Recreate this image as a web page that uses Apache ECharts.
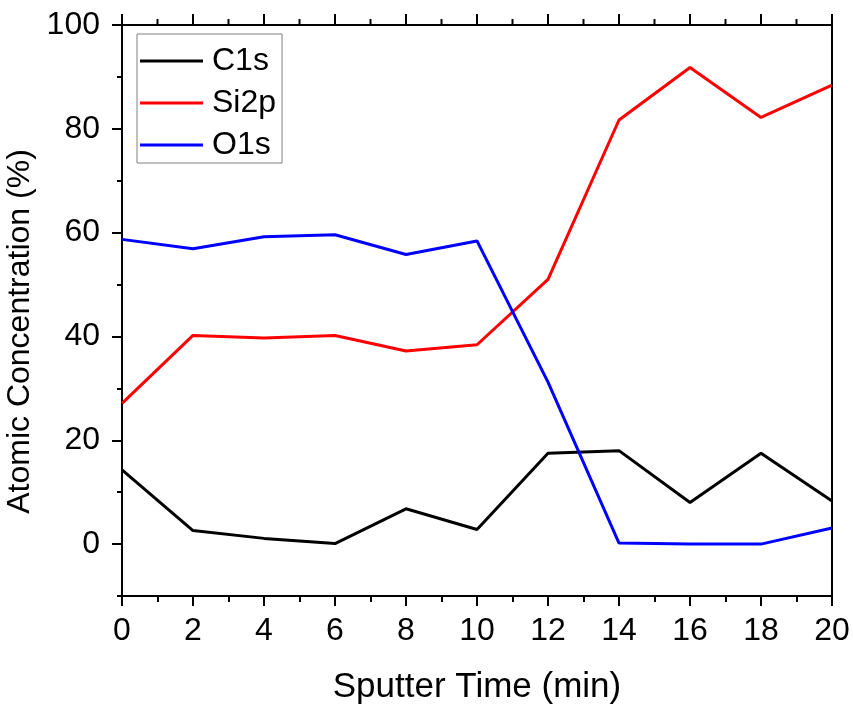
<!DOCTYPE html>
<html>
<head>
<meta charset="utf-8">
<script src="https://cdn.jsdelivr.net/npm/echarts@6/dist/echarts.min.js"></script>
<style>
html,body{margin:0;padding:0;background:#fff;}
#chart{width:853px;height:708px;}
</style>
</head>
<body>
<div id="chart"></div>
<script>
const time = [0, 2, 4, 6, 8, 10, 12, 14, 16, 18, 20];
const c1s  = [14.3, 2.6, 1.1, 0.1, 6.8, 2.8, 17.5, 18.0, 8.0, 17.5, 8.3];
const si2p = [27.1, 40.2, 39.7, 40.2, 37.2, 38.4, 51.0, 81.7, 91.8, 82.2, 88.4];
const o1s  = [58.7, 56.9, 59.2, 59.6, 55.8, 58.4, 31.2, 0.2, 0.0, 0.0, 3.1];
const xTicks = [0, 2, 4, 6, 8, 10, 12, 14, 16, 18, 20];
const xMinorTicks = [1, 3, 5, 7, 9, 11, 13, 15, 17, 19];
const yTicks = [0, 20, 40, 60, 80, 100];
const seriesNames = ['C1s', 'Si2p', 'O1s'];
const seriesColors = ['#000000', '#ff0000', '#0000ff'];
const seriesData = [c1s, si2p, o1s];

const font = 'Arial, "Liberation Sans", sans-serif';
const chart = echarts.init(document.getElementById('chart'));
const yMax = 100;

chart.setOption({
  animation: false,
  backgroundColor: '#ffffff',
  grid: { left: 122, right: 21, top: 25, bottom: 112, show: true, borderColor: '#000', borderWidth: 2, backgroundColor: 'transparent', containLabel: false, outerBoundsMode: 'none' },
  legend: {
    orient: 'vertical', left: 137, top: 34,
    icon: 'rect',
    itemWidth: 63, itemHeight: 3, itemGap: 10,
    padding: [11, 6, 2, 3],
    borderColor: '#808080', borderWidth: 1,
    textStyle: { fontFamily: font, fontSize: 32, color: '#000', lineHeight: 30, padding: [0, 0, 0, 4] },
    data: seriesNames
  },
  xAxis: [
    {
      type: 'value', min: xTicks[0], max: xTicks[xTicks.length - 1], interval: 2,
      position: 'bottom',
      name: 'Sputter Time (min)', nameLocation: 'middle', nameGap: 74,
      nameTextStyle: { fontFamily: font, fontSize: 35, color: '#000' },
      axisLine: { show: true, onZero: false, lineStyle: { color: '#000', width: 2 } },
      axisTick: { show: true, length: 10, lineStyle: { color: '#000', width: 2 } },
      minorTick: { show: true, splitNumber: 2, length: 6, lineStyle: { color: '#000', width: 2 } },
      axisLabel: { fontFamily: font, fontSize: 32, color: '#000', margin: 19 },
      splitLine: { show: false }
    }
  ],
  yAxis: [
    {
      type: 'value', min: -10, max: yMax,
      position: 'left',
      name: 'Atomic Concentration (%)', nameLocation: 'middle', nameGap: 66,
      nameTextStyle: { fontFamily: font, fontSize: 32, color: '#000', padding: [0, 42, 0, 0] },
      axisLine: { show: true, onZero: false, lineStyle: { color: '#000', width: 2 } },
      axisTick: { show: true, length: 10, customValues: yTicks, lineStyle: { color: '#000', width: 2 } },
      axisLabel: { fontFamily: font, fontSize: 32, color: '#000', margin: 22, customValues: yTicks },
      splitLine: { show: false }
    },
    {
      type: 'value', min: -10, max: yMax, interval: 10,
      position: 'left',
      axisLine: { show: false, onZero: false },
      axisTick: { show: true, length: 5, lineStyle: { color: '#000', width: 2 } },
      axisLabel: { show: false },
      splitLine: { show: false }
    }
  ],
  series: seriesNames.map((n, i) => ({
    name: n,
    type: 'line',
    xAxisIndex: 0, yAxisIndex: 0,
    symbol: 'none',
    color: seriesColors[i],
    lineStyle: { color: seriesColors[i], width: 3 },
    data: time.map((t, j) => [t, seriesData[i][j]])
  }))
});

// Top-edge ticks, positioned through the chart's own x scale
const tickLines = [];
xTicks.forEach(v => tickLines.push({ v: v, len: 11 }));
xMinorTicks.forEach(v => tickLines.push({ v: v, len: 6 }));
chart.setOption({
  graphic: tickLines.map(t => {
    const p = chart.convertToPixel({ xAxisIndex: 0, yAxisIndex: 0 }, [t.v, yMax]);
    return {
      type: 'line', z: 1000, silent: true,
      shape: { x1: p[0], y1: p[1], x2: p[0], y2: p[1] - t.len },
      style: { stroke: '#000', lineWidth: 2 }
    };
  })
});
</script>
</body>
</html>
